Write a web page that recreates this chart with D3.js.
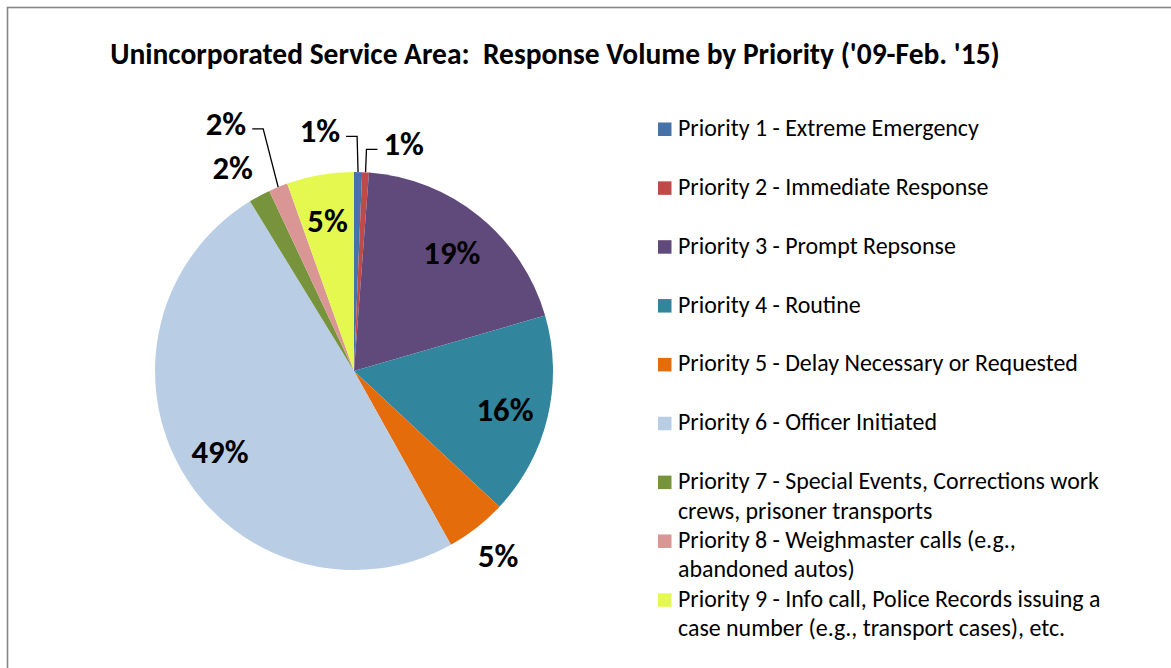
<!DOCTYPE html>
<html>
<head>
<meta charset="utf-8">
<script src="https://cdn.jsdelivr.net/npm/d3@7"></script>
<style>
  html, body { margin: 0; padding: 0; background: #fff; }
  svg { display: block; }
  text { font-family: Carlito, Calibri, Lato, "Open Sans", sans-serif; fill: #000; }
</style>
</head>
<body>
<svg id="chart" width="1171" height="668"></svg>
<script>
// Response volume share by priority (percent of all responses)
const title = "Unincorporated Service Area:  Response Volume by Priority ('09-Feb. '15)";
const categories = [
  "Priority 1 - Extreme Emergency",
  "Priority 2 - Immediate Response",
  "Priority 3 - Prompt Repsonse",
  "Priority 4 - Routine",
  "Priority 5 - Delay Necessary or Requested",
  "Priority 6 - Officer Initiated",
  "Priority 7 - Special Events, Corrections work\ncrews, prisoner transports",
  "Priority 8 - Weighmaster calls (e.g.,\nabandoned autos)",
  "Priority 9 - Info call, Police Records issuing a\ncase number (e.g., transport cases), etc."
];
const shares = [0.65, 0.55, 19.3, 16.45, 4.95, 49.35, 1.75, 1.55, 5.45];
const colors = ["#4672AA", "#BE4B48", "#604A7B", "#31859C", "#E46C0A",
                "#B9CDE5", "#77933C", "#D99694", "#E4F84F"];

// Label placement: null = inside the slice; otherwise polar position
// (degrees clockwise from 12 o'clock, distance from centre in px)
// and whether a leader line is drawn back to the slice.
const labelPlacement = [
  { angle: 352, dist: 245, leader: true },
  { angle: 12.2, dist: 235, leader: true },
  null, null,
  { angle: 141.6, dist: 232, leader: false },
  null,
  { angle: 329.5, dist: 239, leader: false },
  { angle: 332.9, dist: 281, leader: true },
  null
];

const svg = d3.select("#chart");

// chart frame
svg.append("rect")
  .attr("x", 7.5).attr("y", 7.5)
  .attr("width", 1200).attr("height", 700)
  .attr("fill", "#fff")
  .attr("stroke", "#878787").attr("stroke-width", 1.6);

// fit a text element's font size so its rendered width hits a target
function fitWidth(sel, base, target) {
  sel.style("font-size", base + "px");
  const w = sel.node().getComputedTextLength();
  const size = base * target / w;
  sel.style("font-size", size + "px");
  return size;
}

const titleText = svg.append("text")
  .attr("x", 555).attr("y", 64)
  .attr("text-anchor", "middle")
  .attr("font-weight", "bold")
  .attr("xml:space", "preserve")
  .style("white-space", "pre")
  .text(title);
fitWidth(titleText, 24, 890);

// pie
const cx = 354, cy = 371, R = 199;
const pie = d3.pie().sort(null).value(d => d)(shares);
const arc = d3.arc().innerRadius(0).outerRadius(R);
const g = svg.append("g").attr("transform", `translate(${cx},${cy})`);

g.selectAll("path.slice")
  .data(pie)
  .join("path")
  .attr("class", "slice")
  .attr("d", arc)
  .attr("fill", (d, i) => colors[i])
  .attr("stroke", "none");

const fmt = d3.format(".0%");
const labelArc = d3.arc().innerRadius(R * 0.78).outerRadius(R * 0.78);

// measure label size once
const probe = g.append("text").attr("font-weight", "bold").text("19%");
const labelSize = fitWidth(probe, 26, 57);
probe.remove();

const polar = (deg, r) => {
  const a = deg * Math.PI / 180;
  return [r * Math.sin(a), -r * Math.cos(a)];
};

pie.forEach((d, i) => {
  const place = labelPlacement[i];
  let x, y;
  if (!place) {
    [x, y] = labelArc.centroid(d);
  } else {
    [x, y] = polar(place.angle, place.dist);
  }
  const t = g.append("text")
    .attr("x", x).attr("y", y + 3)
    .attr("text-anchor", "middle")
    .attr("dominant-baseline", "central")
    .attr("font-weight", "bold")
    .style("font-size", labelSize + "px")
    .text(fmt(d.value / 100));

  if (place && place.leader) {
    const half = t.node().getComputedTextLength() / 2;
    const mid = (d.startAngle + d.endAngle) / 2 * 180 / Math.PI;
    const [ax, ay] = polar(mid, R);
    const side = ax > x ? 1 : -1;
    const y0 = y + 8;
    const x0 = x + side * (half + 6);
    const x1 = x0 + side * 11;
    g.append("polyline")
      .attr("points", [[x0, y0], [x1, y0], [ax, ay]].map(p => p.join(",")).join(" "))
      .attr("fill", "none")
      .attr("stroke", "#000")
      .attr("stroke-width", 1.3);
  }
});

// legend
const legend = svg.append("g").attr("transform", "translate(658,136)");
const rowStep = 58.85, lineStep = 29.5;
let legendSize = null;
categories.forEach((name, i) => {
  const row = legend.append("g").attr("transform", `translate(0,${i * rowStep})`);
  row.append("rect")
    .attr("x", 0).attr("y", -13.5)
    .attr("width", 13.5).attr("height", 13.5)
    .attr("fill", colors[i]);
  const t = row.append("text").attr("x", 20).attr("y", 0);
  name.split("\n").forEach((line, j) => {
    t.append("tspan").attr("x", 20).attr("y", j * lineStep).text(line);
  });
  if (i === 0) legendSize = fitWidth(t, 20, 301);
  else t.style("font-size", legendSize + "px");
});
</script>
</body>
</html>
